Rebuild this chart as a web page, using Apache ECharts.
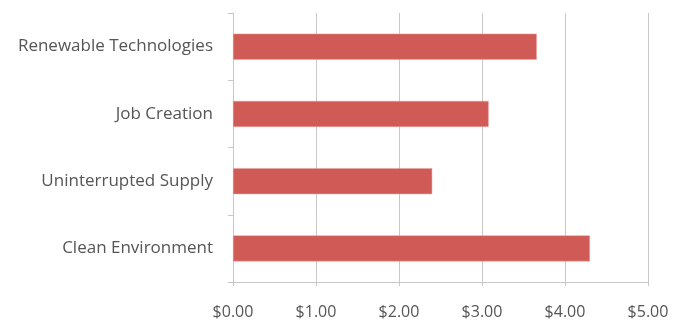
<!DOCTYPE html>
<html>
<head>
<meta charset="utf-8">
<script src="https://cdn.jsdelivr.net/npm/echarts@6/dist/echarts.min.js"></script>
<style>
  html, body { margin: 0; padding: 0; background: #ffffff; }
  #chart { width: 679px; height: 321px; }
</style>
</head>
<body>
<div id="chart"></div>
<script>
// Categories listed bottom-to-top (category axis on y runs upward)
const categories = ['Clean Environment', 'Uninterrupted Supply', 'Job Creation', 'Renewable Technologies'];
const values = [4.30, 2.40, 3.08, 3.66];
const tickMin = 0;
const tickMax = 5;
const tickStep = 1;

const textColor = '#555555';
const lineColor = '#c8c8c8';
const barColor = '#cf5a56';

const chart = echarts.init(document.getElementById('chart'), null, { renderer: 'canvas' });
chart.setOption({
  backgroundColor: '#ffffff',
  animation: false,
  grid: { left: 233, right: 31, top: 13, bottom: 39, containLabel: false },
  xAxis: {
    type: 'value',
    min: tickMin,
    max: tickMax,
    interval: tickStep,
    axisLine: { show: true, lineStyle: { color: lineColor, width: 1 } },
    axisTick: { show: true, length: 4, lineStyle: { color: lineColor } },
    splitLine: { show: true, lineStyle: { color: lineColor, width: 1 } },
    axisLabel: {
      color: textColor,
      fontFamily: '"Open Sans", Lato, sans-serif',
      fontSize: 16,
      margin: 22,
      formatter: v => '$' + v.toFixed(2)
    }
  },
  yAxis: {
    type: 'category',
    data: categories,
    axisLine: { show: true, lineStyle: { color: lineColor, width: 1 } },
    axisTick: { show: true, length: 5, inside: false, lineStyle: { color: lineColor } },
    splitLine: { show: false },
    axisLabel: {
      color: textColor,
      fontFamily: '"Open Sans", Lato, sans-serif',
      fontSize: 17,
      margin: 20
    }
  },
  series: [{
    type: 'bar',
    data: values,
    barWidth: 26,
    itemStyle: { color: barColor, borderColor: '#e8a09d', borderWidth: 0.5 }
  }]
});
</script>
</body>
</html>
